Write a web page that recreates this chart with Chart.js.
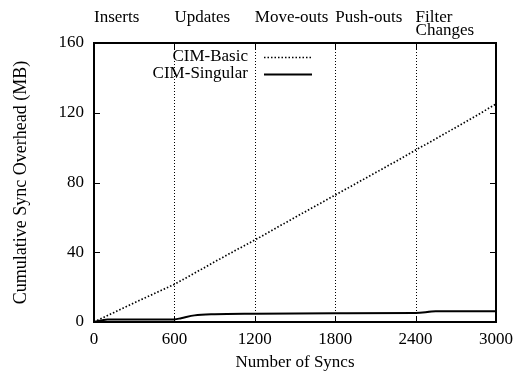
<!DOCTYPE html>
<html>
<head>
<meta charset="utf-8">
<script src="https://cdn.jsdelivr.net/npm/chart.js@4.4.0/dist/chart.umd.min.js"></script>
<style>
  html, body { margin: 0; padding: 0; background: #fff; }
  #wrap { width: 520px; height: 376px; }
</style>
</head>
<body>
<div id="wrap"><canvas id="grafica"></canvas></div>
<script>
  // datos
  const syncsBasic = [0, 150, 300, 450, 600, 750, 900, 1050, 1200, 1350, 1500, 1650, 1800, 1950, 2100, 2250, 2400, 2550, 2700, 2850, 3000];
  const mbBasic    = [0, 5.5, 11, 16.3, 21.6, 28, 34.5, 40.8, 47, 53.5, 60, 66.4, 72.8, 79.2, 85.6, 92, 98.6, 105, 111.6, 118.2, 125];
  const syncsSingular = [0, 100, 600, 650, 750, 900, 1200, 1800, 2400, 2550, 3000];
  const mbSingular    = [0, 1.5, 1.5, 2.2, 3.8, 4.5, 4.8, 5.0, 5.2, 6.1, 6.2];
  const fases = ["Inserts", "Updates", "Move-outs", "Push-outs", ["Filter", "Changes"]];
  const inicioFases = [0, 600, 1200, 1800, 2400];
  const ticksX = [0, 600, 1200, 1800, 2400, 3000];
  const ticksY = [0, 40, 80, 120, 160];

  const fuente = "'Liberation Serif', 'DejaVu Serif', serif";
  const tam = 17;

  function puntos(xs, ys) {
    return xs.map(function (x, i) { return {x: x, y: ys[i]}; });
  }

  // marco, marcas internas, lineas de fase, etiquetas y leyenda al estilo gnuplot
  const marcoGnuplot = {
    id: 'marcoGnuplot',
    beforeDatasetsDraw: function (chart) {
      const ctx = chart.ctx, a = chart.chartArea;
      const sx = chart.scales.x;
      ctx.save();
      ctx.strokeStyle = '#000';
      ctx.lineWidth = 1;
      ctx.setLineDash([1, 2]);
      inicioFases.forEach(function (v) {
        if (v <= 0) return;
        const px = Math.round(sx.getPixelForValue(v)) + 0.5;
        ctx.beginPath(); ctx.moveTo(px, a.top); ctx.lineTo(px, a.bottom); ctx.stroke();
      });
      ctx.restore();
    },
    afterDatasetsDraw: function (chart) {
      const ctx = chart.ctx, a = chart.chartArea;
      const sx = chart.scales.x, sy = chart.scales.y;
      ctx.save();
      ctx.strokeStyle = '#000';
      ctx.lineWidth = 2;
      ctx.strokeRect(a.left, a.top, a.right - a.left, a.bottom - a.top);
      ctx.lineWidth = 1;
      ticksX.forEach(function (v) {
        const px = Math.round(sx.getPixelForValue(v)) + 0.5;
        ctx.beginPath();
        ctx.moveTo(px, a.bottom); ctx.lineTo(px, a.bottom - 6);
        ctx.moveTo(px, a.top); ctx.lineTo(px, a.top + 6);
        ctx.stroke();
      });
      ticksY.forEach(function (v) {
        const py = Math.round(sy.getPixelForValue(v)) + 0.5;
        ctx.beginPath();
        ctx.moveTo(a.left, py); ctx.lineTo(a.left + 6, py);
        ctx.moveTo(a.right, py); ctx.lineTo(a.right - 6, py);
        ctx.stroke();
      });

      // etiquetas de fase
      ctx.fillStyle = '#000';
      ctx.font = tam + 'px ' + fuente;
      ctx.textAlign = 'left';
      ctx.textBaseline = 'alphabetic';
      fases.forEach(function (t, i) {
        const px = sx.getPixelForValue(inicioFases[i]);
        const lineas = Array.isArray(t) ? t : [t];
        lineas.forEach(function (l, j) {
          ctx.fillText(l, px, 22 + j * 13);
        });
      });

      // leyenda
      ctx.textAlign = 'right';
      ctx.textBaseline = 'middle';
      chart.data.datasets.forEach(function (ds, i) {
        const y = 57 + i * 17;
        ctx.fillText(ds.label, 248, y);
        ctx.strokeStyle = '#000';
        ctx.lineWidth = ds.borderWidth;
        ctx.setLineDash(ds.borderDash || []);
        ctx.beginPath(); ctx.moveTo(264, y + 0.5); ctx.lineTo(312, y + 0.5); ctx.stroke();
      });
      ctx.restore();
    }
  };

  var grafica = new Chart(document.getElementById('grafica'), {
    type: 'line',
    data: {
      datasets: [{
        label: 'CIM-Basic',
        data: puntos(syncsBasic, mbBasic),
        borderColor: '#000',
        borderWidth: 1.7,
        borderDash: [1.5, 2],
        pointRadius: 0,
        tension: 0
      }, {
        label: 'CIM-Singular',
        data: puntos(syncsSingular, mbSingular),
        borderColor: '#000',
        borderWidth: 2,
        pointRadius: 0,
        cubicInterpolationMode: 'monotone'
      }]
    },
    options: {
      responsive: true,
      maintainAspectRatio: false,
      animation: false,
      layout: { padding: { top: 43, right: 23, left: 0, bottom: 0 } },
      plugins: { legend: { display: false }, tooltip: { enabled: false } },
      scales: {
        x: {
          type: 'linear',
          min: 0, max: 3000,
          afterBuildTicks: function (s) { s.ticks = ticksX.map(function (v) { return {value: v}; }); },
          afterFit: function (s) { s.height = 54; },
          grid: { display: false, drawTicks: false },
          border: { display: false },
          ticks: { color: '#000', padding: 7, maxRotation: 0, font: { family: fuente, size: tam },
                   callback: function (v) { return String(v); } },
          title: { display: true, text: 'Number of Syncs', color: '#000', padding: { top: 0, bottom: 3 }, font: { family: fuente, size: tam } }
        },
        y: {
          min: 0, max: 160,
          afterBuildTicks: function (s) { s.ticks = ticksY.map(function (v) { return {value: v}; }); },
          afterFit: function (s) { s.width = 94; },
          grid: { display: false, drawTicks: false },
          border: { display: false },
          ticks: { color: '#000', padding: 10, font: { family: fuente, size: tam } },
          title: { display: true, text: 'Cumulative Sync Overhead (MB)', color: '#000', padding: { top: 10, bottom: 0 }, font: { family: fuente, size: 18 } }
        }
      }
    },
    plugins: [marcoGnuplot]
  });
</script>
</body>
</html>
